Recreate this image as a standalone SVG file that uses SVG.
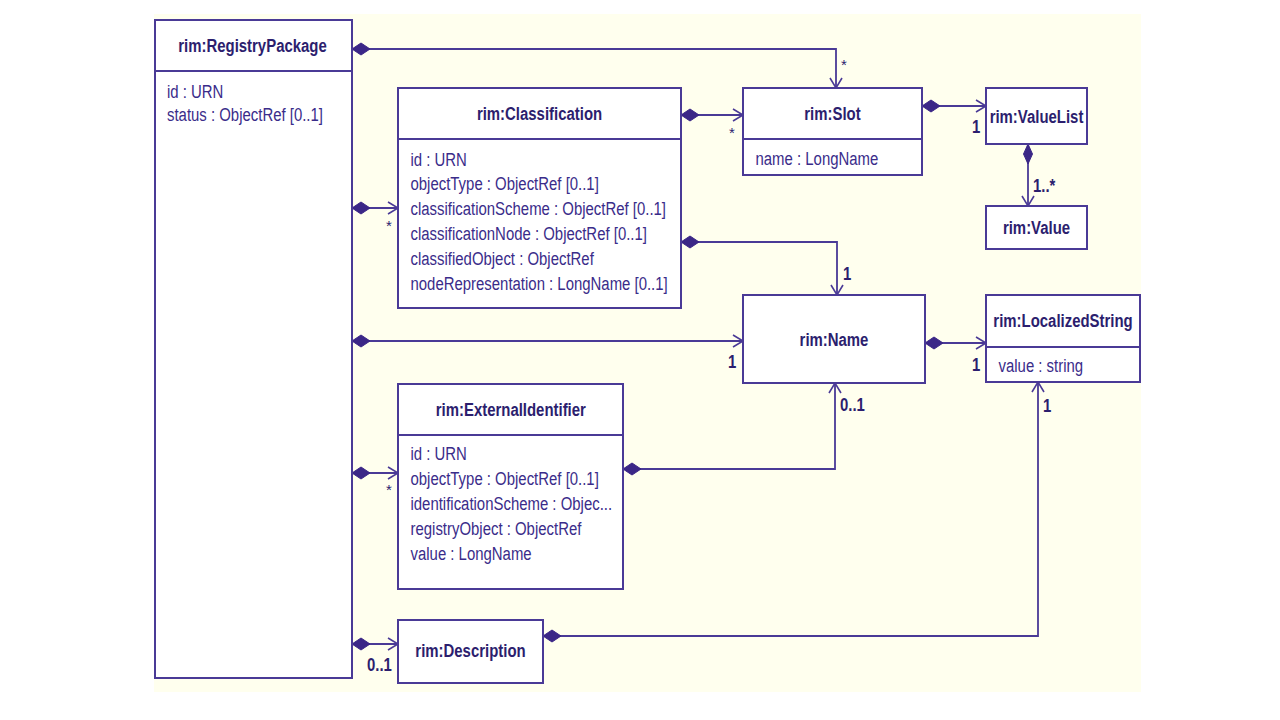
<svg xmlns="http://www.w3.org/2000/svg" width="1280" height="720" viewBox="0 0 1280 720">
<style>
.bg{fill:#FFFFEE}
.box{fill:#FFFFFF;stroke:#4A3A96;stroke-width:2}
.div{stroke:#4A3A96;stroke-width:2}
.t{font-family:"Liberation Sans",Arial,sans-serif;font-weight:bold;font-size:19px;fill:#2C1E6E;text-anchor:middle}
.a{font-family:"Liberation Sans",Arial,sans-serif;font-size:19px;fill:#3A2C8A}
.m{font-family:"Liberation Sans",Arial,sans-serif;font-weight:bold;font-size:19px;fill:#2C1E6E}
.s{font-family:"Liberation Sans",Arial,sans-serif;font-size:15px;fill:#2C1E6E}
.c{fill:none;stroke:#4A3A96;stroke-width:1.8;marker-start:url(#dia);marker-end:url(#arr)}
</style>
<defs>
<marker id="dia" viewBox="0 -7 20 14" refX="0" refY="0" markerWidth="20" markerHeight="14" markerUnits="userSpaceOnUse" orient="auto">
<path d="M0,0 L9,-6 L18,0 L9,6 Z" fill="#3B2787" stroke="#3B2787" stroke-width="1"/>
</marker>
<marker id="diaL" viewBox="0 -6 24 12" refX="0" refY="0" markerWidth="24" markerHeight="12" markerUnits="userSpaceOnUse" orient="auto">
<path d="M0,0 L10,-4.5 L20,0 L10,4.5 Z" fill="#3B2787" stroke="#3B2787" stroke-width="1"/>
</marker>
<marker id="arr" viewBox="-12 -8 14 16" refX="0" refY="0" markerWidth="14" markerHeight="16" markerUnits="userSpaceOnUse" orient="auto">
<path d="M-10,-6 L0,0 L-10,6" fill="none" stroke="#4A3A96" stroke-width="1.6"/>
</marker>
</defs>
<rect class="bg" x="154" y="14" width="987" height="678"/>

<g id="connectors">
<path class="c" d="M352,49 H836 V88"/>
<path class="c" d="M681,115 H743"/>
<path class="c" d="M922,106 H986"/>
<path class="c" d="M1028,144 V206" style="marker-start:url(#diaL)"/>
<path class="c" d="M681,242 H837 V295"/>
<path class="c" d="M352,208 H398"/>
<path class="c" d="M352,341 H743"/>
<path class="c" d="M925,343 H986"/>
<path class="c" d="M352,473 H398"/>
<path class="c" d="M623,469 H835 V383"/>
<path class="c" d="M352,644 H398"/>
<path class="c" d="M543,636 H1038 V382"/>
<text class="s" x="841" y="70">*</text>
<text class="s" x="729" y="138">*</text>
<text class="m" transform="translate(972,133) scale(0.786,1)">1</text>
<text class="m" transform="translate(1033,192) scale(0.786,1)">1..*</text>
<text class="m" transform="translate(843,280) scale(0.786,1)">1</text>
<text class="s" x="386" y="231">*</text>
<text class="m" transform="translate(728,368) scale(0.786,1)">1</text>
<text class="m" transform="translate(972,371) scale(0.786,1)">1</text>
<text class="m" transform="translate(840,411) scale(0.786,1)">0..1</text>
<text class="m" transform="translate(1043,412) scale(0.786,1)">1</text>
<text class="s" x="386" y="495">*</text>
<text class="m" transform="translate(367,671) scale(0.786,1)">0..1</text>
</g>

<g id="RegistryPackage">
<rect class="box" x="155" y="20" width="197" height="658"/>
<line class="div" x1="155" y1="71" x2="352" y2="71"/>
<text class="t" transform="translate(252.5,51.5) scale(0.786,1)">rim:RegistryPackage</text>
<g transform="translate(167,0) scale(0.786,1)">
<text class="a" y="98">id : URN</text>
<text class="a" y="121">status : ObjectRef [0..1]</text>
</g>
</g>

<g id="Classification">
<rect class="box" x="398" y="88" width="283" height="220"/>
<line class="div" x1="398" y1="139" x2="681" y2="139"/>
<text class="t" transform="translate(539.5,120) scale(0.786,1)">rim:Classification</text>
<g transform="translate(410.5,0) scale(0.786,1)">
<text class="a" y="166">id : URN</text>
<text class="a" y="190">objectType : ObjectRef [0..1]</text>
<text class="a" y="215">classificationScheme : ObjectRef [0..1]</text>
<text class="a" y="240">classificationNode : ObjectRef [0..1]</text>
<text class="a" y="265">classifiedObject : ObjectRef</text>
<text class="a" y="290">nodeRepresentation : LongName [0..1]</text>
</g>
</g>

<g id="Slot">
<rect class="box" x="743" y="88" width="179" height="87"/>
<line class="div" x1="743" y1="139" x2="922" y2="139"/>
<text class="t" transform="translate(832.5,120) scale(0.786,1)">rim:Slot</text>
<text class="a" transform="translate(755.5,165) scale(0.786,1)">name : LongName</text>
</g>

<g id="ValueList">
<rect class="box" x="986" y="88" width="101" height="56"/>
<text class="t" transform="translate(1036.5,122.5) scale(0.786,1)">rim:ValueList</text>
</g>

<g id="Value">
<rect class="box" x="986" y="206" width="101" height="43"/>
<text class="t" transform="translate(1036.5,234) scale(0.786,1)">rim:Value</text>
</g>

<g id="Name">
<rect class="box" x="743" y="295" width="182" height="88"/>
<text class="t" transform="translate(834,346) scale(0.786,1)">rim:Name</text>
</g>

<g id="LocalizedString">
<rect class="box" x="986" y="295" width="154" height="87"/>
<line class="div" x1="986" y1="347" x2="1140" y2="347"/>
<text class="t" transform="translate(1063,326.5) scale(0.786,1)">rim:LocalizedString</text>
<text class="a" transform="translate(998.5,372) scale(0.786,1)">value : string</text>
</g>

<g id="ExternalIdentifier">
<rect class="box" x="398" y="384" width="225" height="205"/>
<line class="div" x1="398" y1="435" x2="623" y2="435"/>
<text class="t" transform="translate(510.8,415.5) scale(0.786,1)">rim:ExternalIdentifier</text>
<g transform="translate(410.5,0) scale(0.786,1)">
<text class="a" y="460">id : URN</text>
<text class="a" y="485">objectType : ObjectRef [0..1]</text>
<text class="a" y="510">identificationScheme : Objec...</text>
<text class="a" y="535">registryObject : ObjectRef</text>
<text class="a" y="560">value : LongName</text>
</g>
</g>

<g id="Description">
<rect class="box" x="398" y="620" width="145" height="63"/>
<text class="t" transform="translate(470.5,656.5) scale(0.786,1)">rim:Description</text>
</g>
</svg>
